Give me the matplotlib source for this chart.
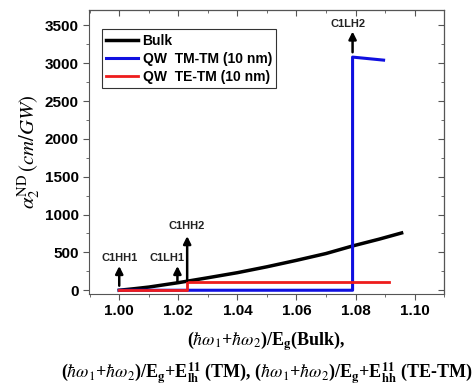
import numpy as np
import matplotlib
matplotlib.use("Agg")
import matplotlib.pyplot as plt
from matplotlib.ticker import MultipleLocator, FormatStrFormatter

plt.rcParams['font.family'] = ['Liberation Sans', 'DejaVu Sans']
plt.rcParams['mathtext.fontset'] = 'stix'

# bulk curve
bulk_x = [1.000, 1.005, 1.010, 1.020, 1.030, 1.040, 1.050, 1.060, 1.070, 1.079, 1.088, 1.0956]
bulk_y = [0, 20, 42, 100, 165, 232, 310, 395, 485, 585, 675, 757]

# QW TM-TM (10 nm)
tm_x = [1.000, 1.079, 1.079, 1.0895]
tm_y = [0, 0, 3080, 3040]

# QW TE-TM (10 nm)
te_x = [1.000, 1.023, 1.023, 1.0915]
te_y = [0, 0, 110, 110]

# transition markers
mark_names = ['C1HH1', 'C1LH1', 'C1HH2', 'C1LH2']
mark_x = [1.000, 1.0197, 1.023, 1.079]
mark_tail = [60, 100, 125, 3144]
mark_tip = [320, 320, 715, 3418]
mark_label_x = [1.000, 1.0163, 1.023, 1.0775]
mark_label_y = [430, 430, 850, 3513]

fig = plt.figure(figsize=(4.74, 3.91), dpi=100)
ax = fig.add_axes([0.188, 0.248, 0.749, 0.726])

ax.plot(bulk_x, bulk_y, color='black', lw=2.5, label='Bulk')
ax.plot(tm_x, tm_y, color='#1010e0', lw=2.2, label='QW  TM-TM (10 nm)')
ax.plot(te_x, te_y, color='#ee1c1c', lw=2, label='QW  TE-TM (10 nm)')

for name, x, t0, t1, lx, ly in zip(mark_names, mark_x, mark_tail, mark_tip, mark_label_x, mark_label_y):
    ax.annotate('', xy=(x, t1), xytext=(x, t0),
                arrowprops=dict(arrowstyle='-|>', color='black', lw=1.8,
                                mutation_scale=11, shrinkA=0, shrinkB=0))
    ax.text(lx, ly, name, ha='center', va='center', fontsize=8, fontweight='bold',
            color='#222222')

ax.set_xlim(0.9898, 1.110)
ax.set_ylim(-50, 3700)
ax.xaxis.set_major_locator(MultipleLocator(0.02))
ax.xaxis.set_minor_locator(MultipleLocator(0.01))
ax.yaxis.set_major_locator(MultipleLocator(500))
ax.yaxis.set_minor_locator(MultipleLocator(250))
ax.xaxis.set_major_formatter(FormatStrFormatter('%.2f'))
ax.tick_params(which='both', direction='out', labelsize=11, color='#555555')
ax.tick_params(which='major', length=4)
ax.tick_params(which='minor', length=2.5)
for lab in ax.get_xticklabels() + ax.get_yticklabels():
    lab.set_fontweight('bold')
for sp in ax.spines.values():
    sp.set_color('#555555')

# mirrored ticks pointing inward on top and right
top = ax.secondary_xaxis('top')
top.xaxis.set_major_locator(MultipleLocator(0.02))
top.xaxis.set_minor_locator(MultipleLocator(0.01))
top.tick_params(which='both', direction='in', labeltop=False, color='#555555')
top.tick_params(which='major', length=4)
top.tick_params(which='minor', length=2.5)
right = ax.secondary_yaxis('right')
right.yaxis.set_major_locator(MultipleLocator(500))
right.yaxis.set_minor_locator(MultipleLocator(250))
right.tick_params(which='both', direction='in', labelright=False, color='#555555')
right.tick_params(which='major', length=4)
right.tick_params(which='minor', length=2.5)

ax.set_ylabel(r'$\alpha_2^{\rm ND}\,(cm/GW)$', fontsize=15, labelpad=2)

leg = ax.legend(loc='upper left', bbox_to_anchor=(0.037, 0.932), frameon=True, fancybox=False,
                edgecolor='black', handlelength=2.3, handletextpad=0.3,
                borderpad=0.3, labelspacing=0.3, borderaxespad=0,
                prop={'weight': 'bold', 'size': 10})
leg.get_frame().set_linewidth(0.8)

line1 = r'($\hbar\omega_1$+$\hbar\omega_2$)/E$_\mathbf{g}$(Bulk),'
line2 = (r'($\hbar\omega_1$+$\hbar\omega_2$)/E$_\mathbf{g}$+E$^{\mathbf{11}}_{\mathbf{lh}}$ (TM), '
         r'($\hbar\omega_1$+$\hbar\omega_2$)/E$_\mathbf{g}$+E$^{\mathbf{11}}_{\mathbf{hh}}$ (TE-TM)')
fig.text(0.562, 0.128, line1, ha='center', va='center', fontsize=13,
         fontweight='bold', family='Liberation Serif')
fig.text(0.562, 0.046, line2, ha='center', va='center', fontsize=13,
         fontweight='bold', family='Liberation Serif')

fig.savefig('out.png', dpi=100)
